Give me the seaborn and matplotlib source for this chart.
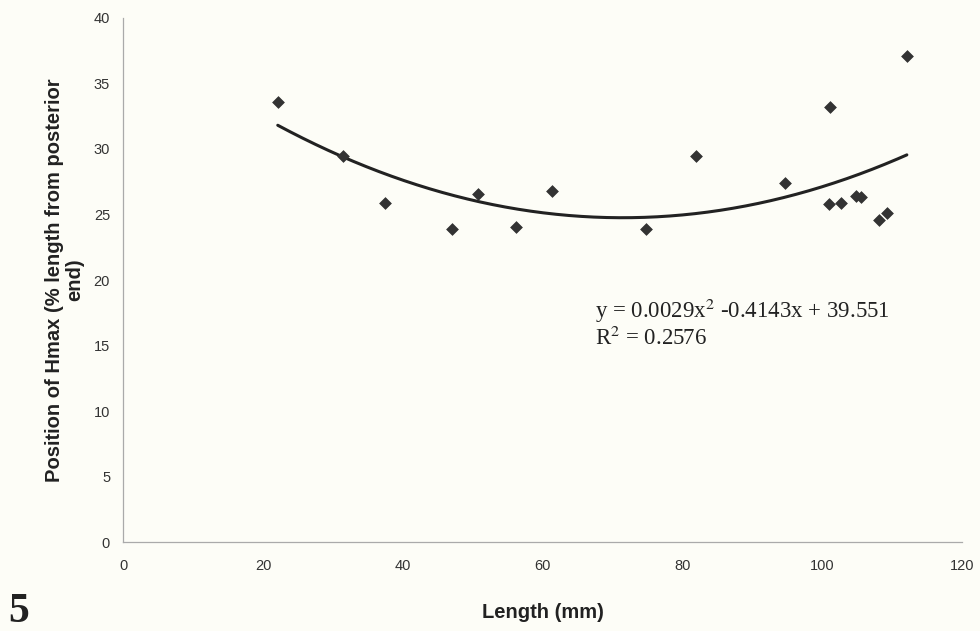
import numpy as np
import pandas as pd
import matplotlib
matplotlib.use("Agg")
import matplotlib.pyplot as plt
import seaborn as sns

# Data
length_mm = [22.1, 31.5, 37.5, 47.0, 50.7, 56.2, 61.4, 74.8, 81.9, 94.6,
             101.1, 101.0, 102.7, 104.8, 105.6, 108.1, 109.3, 112.1]
hmax_pos = [33.6, 29.5, 25.9, 23.9, 26.6, 24.05, 26.8, 23.9, 29.5, 27.4,
            33.2, 25.8, 25.9, 26.4, 26.3, 24.6, 25.1, 37.1]
# Trend line coefficients as printed on the chart (a, b, c)
trend_coef = [0.0029, -0.4143, 39.551]
x_ticks = [0, 20, 40, 60, 80, 100, 120]
y_ticks = [0, 5, 10, 15, 20, 25, 30, 35, 40]

sns.set_theme(style="white")
plt.rcParams['font.family'] = ['Liberation Sans', 'DejaVu Sans']

bg = "#fdfdf7"
fig = plt.figure(figsize=(9.8, 6.31), dpi=100, facecolor=bg)
ax = fig.add_axes([0.1258, 0.141, 0.8559, 0.8305])
ax.set_facecolor(bg)

df = pd.DataFrame({"x": length_mm, "y": hmax_pos})
xs = np.linspace(min(length_mm), max(length_mm), 200)
trend = pd.DataFrame({"x": xs, "y": np.polyval(trend_coef, xs)})

sns.lineplot(data=trend, x="x", y="y", ax=ax, color="#222222", linewidth=2.2)
sns.scatterplot(data=df, x="x", y="y", ax=ax, marker="D", s=36,
                color="#333333", edgecolor="#333333", linewidth=0.5, zorder=3)

ax.set_xlim(0, 120)
ax.set_ylim(0, 40)
ax.set_xticks(x_ticks)
ax.set_yticks(y_ticks)
ax.tick_params(axis="both", labelsize=10.5, labelcolor="#333333", length=3,
               width=0.8, direction="out", color="#999999")
ax.tick_params(axis="x", pad=9)
ax.tick_params(axis="y", pad=6.5)
for s in ["top", "right"]:
    ax.spines[s].set_visible(False)
for s in ["left", "bottom"]:
    ax.spines[s].set_color("#aaaaaa")
    ax.spines[s].set_linewidth(0.9)

ax.set_xlabel("Length (mm)", fontsize=14.5, fontweight="bold", color="#222222",
              labelpad=22)
ax.set_ylabel("Position of Hmax (% length from posterior\nend)", fontsize=14.5,
              fontweight="bold", color="#222222", labelpad=7, linespacing=1.05)

ax.text(0.5627, 0.4275, r"y = 0.0029x$^{2}$ -0.4143x + 39.551", transform=ax.transAxes,
        fontsize=16.5, family="Liberation Serif", color="#222222",
        math_fontfamily="stix")
ax.text(0.5627, 0.376, r"R$^{2}$ = 0.2576", transform=ax.transAxes,
        fontsize=16.5, family="Liberation Serif", color="#222222",
        math_fontfamily="stix")

fig.text(0.008, 0.0, "5", fontsize=30, fontweight="bold", va="bottom",
         family="Liberation Serif", color="#222222")

fig.savefig("out.png", dpi=100, facecolor=bg)
